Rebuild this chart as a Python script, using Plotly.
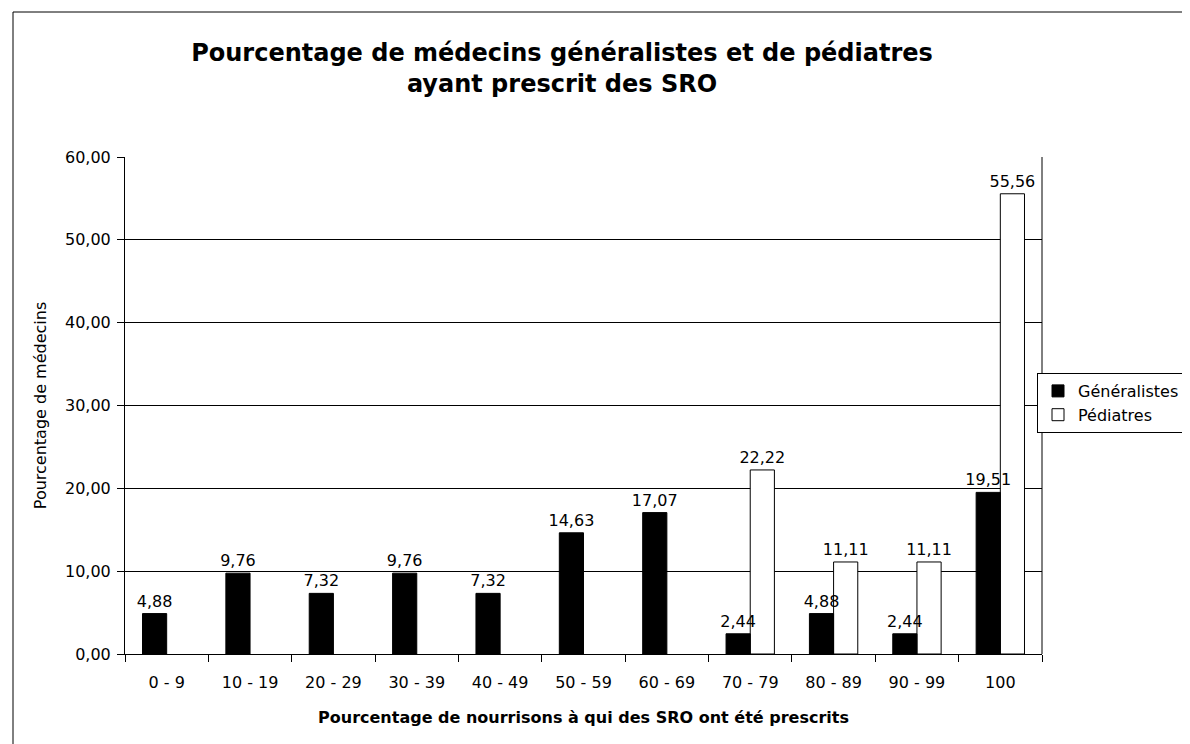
import plotly.graph_objects as go

categories = ["0 - 9", "10 - 19", "20 - 29", "30 - 39", "40 - 49", "50 - 59",
              "60 - 69", "70 - 79", "80 - 89", "90 - 99", "100"]
generalistes = [4.88, 9.76, 7.32, 9.76, 7.32, 14.63, 17.07, 2.44, 4.88, 2.44, 19.51]
pediatres = [None, None, None, None, None, None, None, 22.22, 11.11, 11.11, 55.56]

def fr(v):
    return "" if v is None else f"{v:.2f}".replace(".", ",")

FONT = "DejaVu Sans, Arial, sans-serif"
OFF = 8  # default body margin of the page
BW = 0.29  # bar width in category units

fig = go.Figure()
# Pédiatres drawn first so the labels of the black bars sit on top of the white bars
fig.add_trace(go.Bar(
    x=categories, y=pediatres, name="Pédiatres",
    width=BW, offset=0,
    marker=dict(color="white", line=dict(color="black", width=1)),
    text=[fr(v) for v in pediatres], textposition="outside",
    constraintext="none",
    textfont=dict(size=16, color="black", family=FONT), cliponaxis=False,
))
fig.add_trace(go.Bar(
    x=categories, y=generalistes, name="Généralistes",
    width=BW, offset=-BW,
    marker=dict(color="black", line=dict(color="black", width=1)),
    text=[fr(v) for v in generalistes], textposition="outside",
    constraintext="none",
    textfont=dict(size=16, color="black", family=FONT), cliponaxis=False,
))

SCREEN_W = 1260  # wider than the window: right side is cut off like the reference
W, H = SCREEN_W - OFF, 744 - OFF
L, R, T, B = 125 - OFF, SCREEN_W - 1042, 157 - OFF, 744 - 654
pw, ph = W - L - R, H - T - B

def px(x):
    return (x - OFF - L) / pw

def py(y):
    return (H - B - (y - OFF)) / ph

fig.update_layout(
    width=W, height=H,
    margin=dict(l=L, r=R, t=T, b=B, pad=0),
    paper_bgcolor="white", plot_bgcolor="white",
    font=dict(family=FONT, color="black", size=16),
    separators=", ",
    barmode="overlay",
    title=dict(
        text="<b>Pourcentage de médecins généralistes et de pédiatres<br>ayant prescrit des SRO</b>",
        x=(562 - OFF) / W, xanchor="center", y=1 - (61 - OFF) / H, yanchor="top",
        font=dict(size=24, family=FONT, color="black"),
    ),
    xaxis=dict(
        title=dict(text="<b>Pourcentage de nourrisons à qui des SRO ont été prescrits</b>",
                   font=dict(size=16, family=FONT), standoff=20),
        showline=True, linecolor="black", linewidth=1, mirror=False,
        ticks="outside", tickson="boundaries", ticklen=7, tickcolor="black",
        ticklabelstandoff=14,
        tickfont=dict(size=16), showgrid=False,
    ),
    yaxis=dict(
        title=dict(text="Pourcentage de médecins", font=dict(size=16, family=FONT), standoff=14),
        range=[0, 60], dtick=10, tickformat=".2f",
        showline=True, linecolor="black", linewidth=1,
        ticks="outside", ticklen=7, tickcolor="black",
        ticklabelstandoff=3,
        showgrid=True, gridcolor="black", gridwidth=1,
        tickfont=dict(size=16), zeroline=False,
    ),
    legend=dict(
        x=px(1037), xanchor="left", y=py(403), yanchor="middle",
        bordercolor="black", borderwidth=1, bgcolor="white",
        font=dict(size=16, family=FONT), traceorder="reversed",
        itemwidth=30, tracegroupgap=0,
    ),
    showlegend=True,
)

# right edge of plot area
fig.add_shape(type="line", xref="paper", yref="paper", x0=1, x1=1, y0=0, y1=1,
              line=dict(color="black", width=1))
# outer chart border (partially cut off at right and bottom)
fig.add_shape(type="rect", xref="paper", yref="paper",
              x0=px(13), x1=px(1230), y0=py(770), y1=py(12),
              line=dict(color="black", width=1), fillcolor="rgba(0,0,0,0)", layer="below")

fig.write_html("out.html")
